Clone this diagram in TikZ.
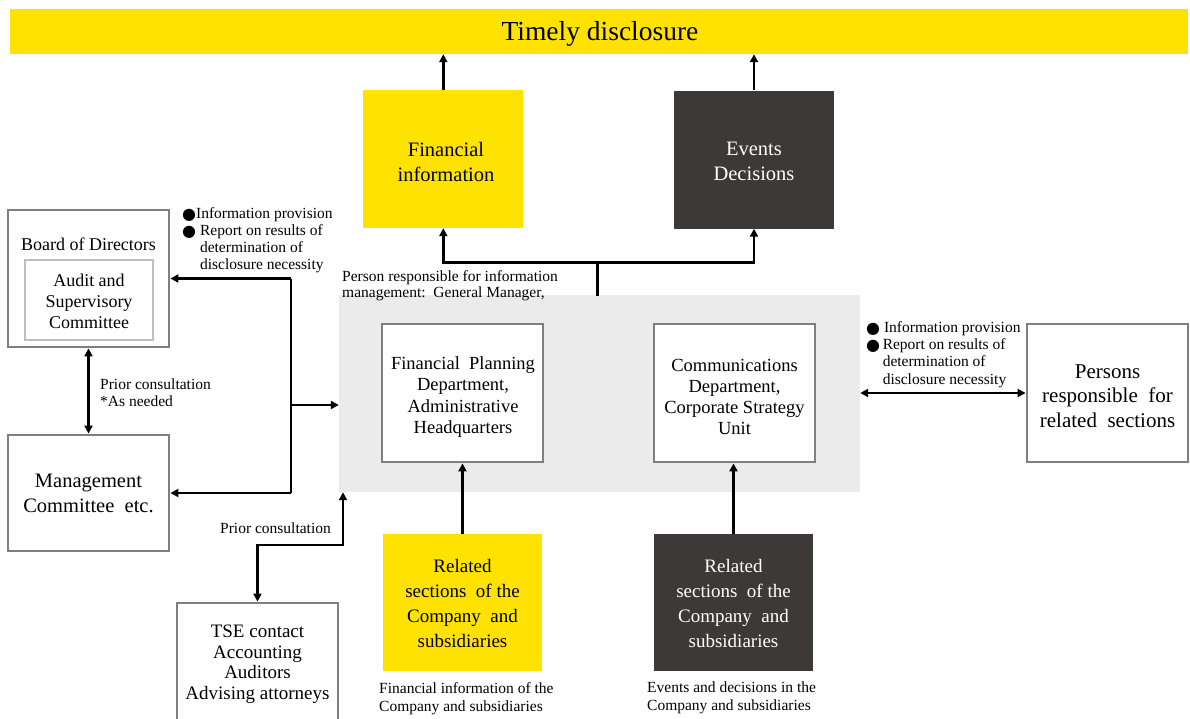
\documentclass[tikz,border=0pt]{standalone}
\usepackage{fontspec}
\setmainfont{Liberation Serif}
\newfontfamily\djv{DejaVu Sans}
\usetikzlibrary{arrows.meta}
\definecolor{eyY}{HTML}{FFE200}
\definecolor{eyD}{HTML}{3D3938}
\definecolor{regG}{HTML}{EBEBEB}
\definecolor{bordG}{HTML}{7F7F7F}
\definecolor{inG}{HTML}{BFBFBF}
\newcommand{\fsz}[2]{\fontsize{#1}{#2}\selectfont}
\newcommand{\bul}{{\djv\fontsize{16}{17}\selectfont\raisebox{-1pt}{●}}}
\begin{document}
\begin{tikzpicture}[x=1pt,y=-1pt,
  wbox/.style={draw=bordG, line width=2.8pt, fill=white, align=center, inner sep=0pt},
  ybox/.style={fill=eyY, align=center, inner sep=0pt},
  dbox/.style={fill=eyD, text=white, align=center, inner sep=0pt},
  txt/.style={inner sep=0pt, align=center},
  lbl/.style={inner sep=0pt, align=left, anchor=north west, font=\fsz{15.5}{17}},
  arr/.style={line width=2.5pt, -{Triangle[length=8pt,width=8pt]}},
  darr/.style={line width=2.5pt, {Triangle[length=8pt,width=8pt]}-{Triangle[length=8pt,width=8pt]}},
  ln/.style={line width=2.5pt}]
\useasboundingbox (0,0) rectangle (1190,718);
\clip (0,0) rectangle (1190,718);
\fill[white] (0,0) rectangle (1190,718);

% top bar
\node[ybox, minimum width=1178pt, minimum height=45pt] (top) at (599,31.5) {};
\node[txt, font=\fsz{27.5}{30}] (topt) at (600,33.5) {Timely disclosure};

% output boxes
\node[ybox, minimum width=160pt, minimum height=138pt] (fin) at (443.3,159) {};
\node[txt, font=\fsz{20.5}{25}] (fint) at (446,162) {Financial\\information};
\node[dbox, minimum width=160pt, minimum height=138pt] (ev) at (754,159.5) {};
\node[txt, text=white, font=\fsz{20.5}{25}] (evt) at (754,161.5) {Events\\Decisions};

\draw[arr] (fin.north) -- (fin.north |- top.south);
\draw[arr] (ev.north) -- (ev.north |- top.south);

% gray region
\node[fill=regG, minimum width=521pt, minimum height=197pt, inner sep=0pt] (gr) at (599.5,393.5) {};

% branch
\coordinate (brb) at (597.7,296);
\coordinate (br) at (597.7,262.7);
\draw[ln] (brb) -- (br);
\draw[arr] (br) -| (fin.south);
\draw[arr] (br) -| (ev.south);

\node[lbl, font=\fsz{15.5}{16}] (prl) at (342,270) {Person responsible for information\\management:\ \ General Manager,};

% departments
\node[wbox, minimum width=161pt, minimum height=138pt] (fp) at (462.5,393) {};
\node[txt, font=\fsz{18.5}{21.3}] (fpt) at (463,397) {Financial\ \ Planning\\Department,\\Administrative\\Headquarters};
\node[wbox, minimum width=161pt, minimum height=138pt] (cm) at (734.5,393) {};
\node[txt, font=\fsz{18.5}{21}] (cmt) at (734.5,397) {Communications\\Department,\\Corporate Strategy\\Unit};

% related sections
\node[ybox, minimum width=159pt, minimum height=137pt] (yr) at (462.5,602.5) {};
\node[txt, font=\fsz{19}{24.7}] (yrt) at (462.5,603.5) {Related\\sections\ \ of the\\Company\ \ and\\subsidiaries};
\node[dbox, minimum width=159pt, minimum height=137pt] (dr) at (733.5,602.5) {};
\node[txt, text=white, font=\fsz{19}{24.7}] (drt) at (733.5,603.5) {Related\\sections\ \ of the\\Company\ \ and\\subsidiaries};
\draw[arr] (yr.north) -- (yr.north |- fp.south);
\draw[arr] (dr.north) -- (dr.north |- cm.south);

\node[lbl, font=\fsz{15.5}{18}] (cap1) at (379,682) {Financial information of the\\Company and subsidiaries};
\node[lbl, font=\fsz{15.5}{18}] (cap2) at (647,682) {Events and decisions in the\\Company and subsidiaries};

% left side
\node[wbox, minimum width=161pt, minimum height=137pt] (bd) at (88.5,278.5) {};
\node[txt, font=\fsz{18}{21}] (bdt) at (88.5,244) {Board of Directors};
\node[draw=inG, line width=1.5pt, fill=white, minimum width=128pt, minimum height=80pt, inner sep=0pt] (asc) at (89,300) {};
\node[txt, font=\fsz{18}{21}] (asct) at (89,301) {Audit and\\Supervisory\\Committee};
\node[wbox, minimum width=161pt, minimum height=116pt, font=\fsz{20.5}{25}] (mg) at (88.5,493) {Management\\Committee\ \ etc.};

\draw[darr] (bd.south) -- (mg.north);
\node[lbl] (pc1) at (100,379) {Prior consultation\\*As needed};

\coordinate (lt) at (291,278.5);
\coordinate (lb) at (291,493);
\coordinate (lm) at (291,405);
\draw[ln] (lt) -- (lb);
\draw[arr] (lt) -- (bd.east);
\draw[arr] (lb) -- (mg.east);
\draw[arr] (lm) -- (gr.west |- lm);

\node[lbl] (ll) at (182,207) {\bul Information provision\\\bul\ Report on results of\\\phantom{\bul\ }determination of\\\phantom{\bul\ }disclosure necessity};

% TSE
\node[wbox, minimum width=161pt, minimum height=125pt] (tse) at (257.5,665.5) {};
\node[txt, font=\fsz{19}{20.5}] (tset) at (257.5,664) {TSE contact\\Accounting\\Auditors\\Advising attorneys};
\coordinate (tc) at (343,545);
\draw[darr] (tse.north) |- (tc) -- (tc |- gr.south);
\node[inner sep=0pt, anchor=west, font=\fsz{15.5}{17}] (pc2) at (220,528) {Prior consultation};

% right side
\node[wbox, minimum width=161pt, minimum height=138pt] (pr) at (1107.5,393) {};
\node[txt, font=\fsz{21}{24.5}] (prt) at (1107.5,396) {Persons\\responsible\ \ for\\related\ \ sections};
\draw[darr] (gr.east |- pr.west) -- (pr.west);
\node[lbl, font=\fsz{15.5}{17.3}] (rl) at (866,321) {\bul\ Information provision\\\bul\,Report on results of\\\phantom{\bul\,}determination of\\\phantom{\bul\,}disclosure necessity};
\end{tikzpicture}
\end{document}
